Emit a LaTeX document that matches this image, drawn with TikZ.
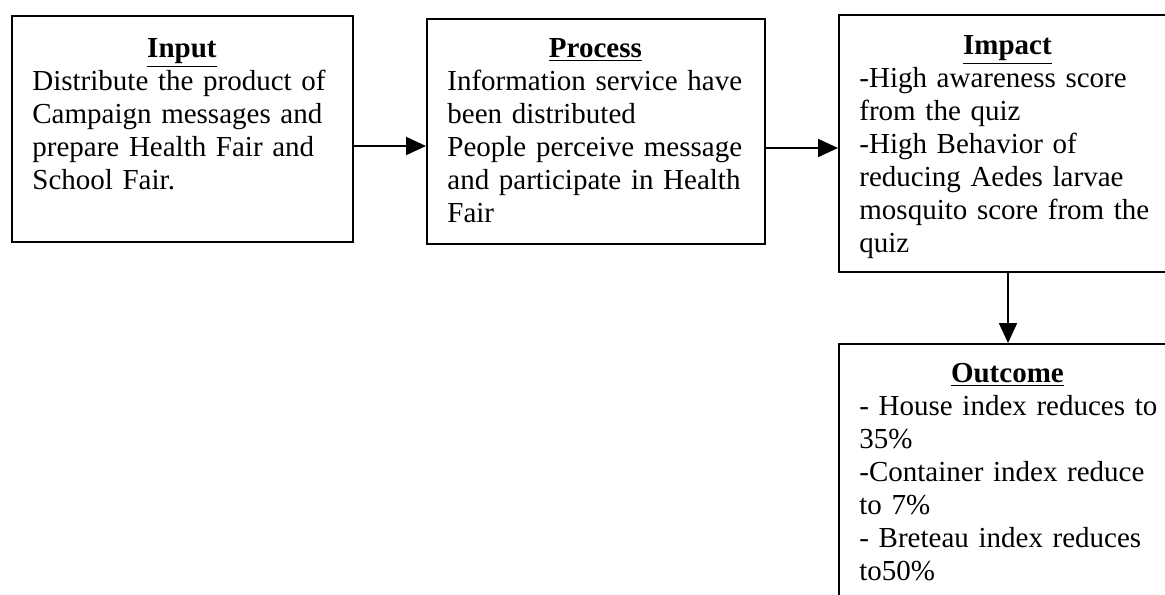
\documentclass[tikz,border=0pt]{standalone}
\usepackage{fontspec}
\setmainfont{Liberation Serif}
\usetikzlibrary{arrows.meta, positioning}

\begin{document}
\begin{tikzpicture}[
  box/.style={draw, line width=1pt, minimum width=169pt, minimum height=#1, inner sep=0pt},
  box/.default=112.5pt,
  txt/.style={text width=150pt, align=left, inner sep=0pt,
              font=\fontsize{14.5pt}{16.5pt}\selectfont},
  arr/.style={-{Triangle[length=10pt, width=9pt]}, line width=1pt},
]
  \useasboundingbox (0,0) rectangle (582.5pt,-297pt);
  \clip (0,0) rectangle (582.5pt,-297pt);

  % frames
  \node[box=113pt, minimum width=170.5pt, anchor=north west] (in) at (5.5pt,-7.5pt) {};
  \node[box, right=36pt of in.north east, anchor=north west, yshift=-1.5pt] (proc) {};
  \node[box=128.5pt, right=36pt of proc.north east, anchor=north west, yshift=2pt] (imp) {};
  \node[box=140pt, below=35pt of imp] (out) {};

  % texts
  \node[txt, text width=149.5pt, below right=11.5pt and 10.5pt of in.north west] (inT)
    {\makebox[\linewidth]{\underline{\textbf{Input}}}\\
     Distribute the product of\\
     Campaign messages and\\
     prepare Health Fair and\\
     School Fair.};
  \node[txt, text width=148pt, below right=10pt and 10.5pt of proc.north west] (procT)
    {\makebox[\linewidth]{\underline{\textbf{Process}}}\\
     Information service have\\
     been distributed\\
     People perceive message\\
     and participate in Health\\
     Fair};
  \node[txt, text width=148pt, below right=10.5pt and 10.5pt of imp.north west] (impT)
    {\makebox[\linewidth]{\underline{\textbf{Impact}}}\\
     -High awareness score\\
     from the quiz\\
     -High Behavior of\\
     reducing Aedes larvae\\
     mosquito score from the\\
     quiz};
  \node[txt, below right=10pt and 10.5pt of out.north west] (outT)
    {\makebox[148pt]{\underline{\textbf{Outcome}}}\\
     - House index reduces to\\
     35\%\\
     -Container index reduce\\
     to 7\%\\
     - Breteau index reduces\\
     to50\%};

  \draw[arr] ([yshift=-8.5pt]in.east) -- ([yshift=-8.5pt]in.east -| proc.west);
  \draw[arr] ([yshift=-8.25pt]proc.east) -- ([yshift=-8.25pt]proc.east -| imp.west);
  \draw[arr] (imp.south) -- (out.north);
\end{tikzpicture}
\end{document}
